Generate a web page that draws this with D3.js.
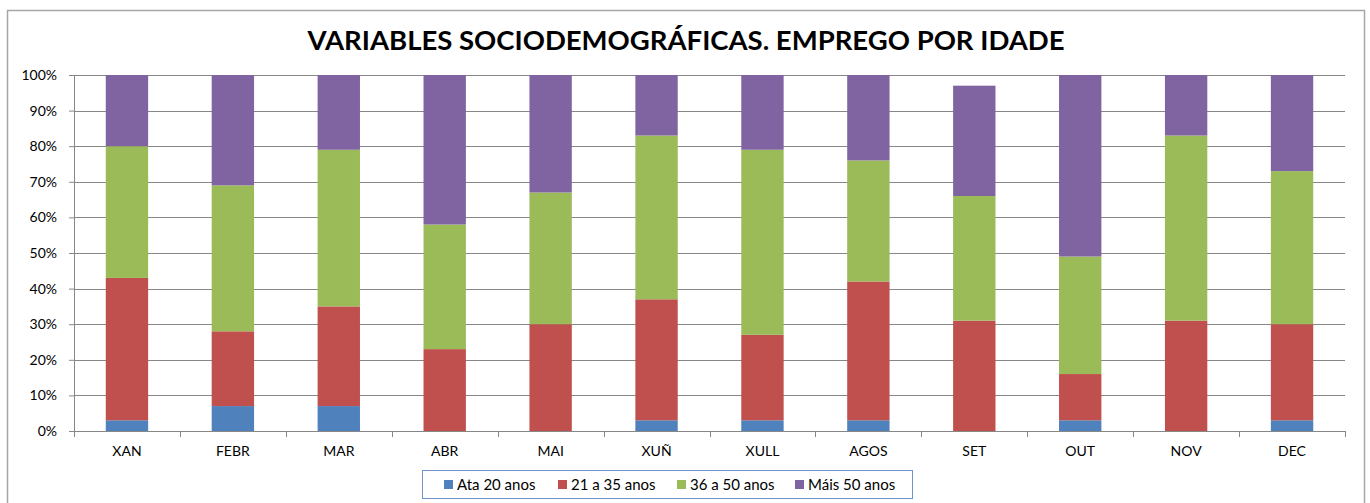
<!DOCTYPE html>
<html>
<head>
<meta charset="utf-8">
<script src="https://cdn.jsdelivr.net/npm/d3@7"></script>
<style>
  body { margin: 0; background: #fff; }
  svg text { font-family: Lato, "Liberation Sans", sans-serif; fill: #000; }
  .grid line { stroke: #878787; stroke-width: 1; }
  .axis path, .axis line { stroke: #878787; }
</style>
</head>
<body>
<div id="chart"></div>
<script>
// data
const months = ['XAN', 'FEBR', 'MAR', 'ABR', 'MAI', 'XUÑ', 'XULL', 'AGOS', 'SET', 'OUT', 'NOV', 'DEC'];
const seriesNames = ['Ata 20 anos', '21 a 35 anos', '36 a 50 anos', 'Máis 50 anos'];
const ata20 = [3, 7, 7, 0, 0, 3, 3, 3, 0, 3, 0, 3];
const de21a35 = [40, 21, 28, 23, 30, 34, 24, 39, 31, 13, 31, 27];
const de36a50 = [37, 41, 44, 35, 37, 46, 52, 34, 35, 33, 52, 43];
const mais50 = [20, 31, 21, 42, 33, 17, 21, 24, 31, 51, 17, 27];
const yTicks = [0, 10, 20, 30, 40, 50, 60, 70, 80, 90, 100];
const colors = ['#4F81BD', '#C0504D', '#9BBB59', '#8064A2'];

const W = 1370, H = 503;
const margins = { top: 75, right: 25, bottom: 72, left: 74 };
const width = W - margins.left - margins.right;
const height = H - margins.top - margins.bottom;

const rows = months.map((m, i) => ({
  month: m,
  s0: ata20[i], s1: de21a35[i], s2: de36a50[i], s3: mais50[i]
}));
const keys = ['s0', 's1', 's2', 's3'];
const stacked = d3.stack().keys(keys)(rows);

const xScale = d3.scaleBand().domain(months).range([0, width]).paddingInner(0.6).paddingOuter(0.3);
const xTickScale = d3.scaleBand().domain(months).range([0, width]);
const yScale = d3.scaleLinear().domain([0, 100]).range([height, 0]);

const $svg = d3.select('#chart').append('svg')
  .attr('width', W).attr('height', H);

// outer frame
$svg.append('rect')
  .attr('x', 7.5).attr('y', 10.5)
  .attr('width', 1357).attr('height', 510)
  .attr('fill', 'none').attr('stroke', '#A6A6A6').attr('stroke-width', 1.5);

$svg.append('text')
  .attr('x', 686).attr('y', 50)
  .attr('text-anchor', 'middle')
  .style('font-size', '27.5px').style('font-weight', 'bold')
  .text('VARIABLES SOCIODEMOGRÁFICAS. EMPREGO POR IDADE');

const $g = $svg.append('g')
  .attr('transform', `translate(${margins.left}, ${margins.top})`);

// gridlines
$g.append('g').classed('grid', true)
  .selectAll('line').data(yTicks.slice(1)).enter().append('line')
  .attr('x1', 0).attr('x2', width)
  .attr('y1', d => Math.round(yScale(d)) + 0.5)
  .attr('y2', d => Math.round(yScale(d)) + 0.5);

// y axis
const yAxis = d3.axisLeft(yScale).tickValues(yTicks).tickSize(5).tickPadding(12)
  .tickFormat(d => d + '%');
const $yAxis = $g.append('g').classed('y axis', true).call(yAxis);
$yAxis.selectAll('text').style('font-size', '14px');

// bars
$g.selectAll('.series')
  .data(stacked).enter().append('g')
  .classed('series', true)
  .attr('fill', (d, i) => colors[i])
  .selectAll('rect')
  .data(d => d).enter().append('rect')
  .attr('x', d => xScale(d.data.month))
  .attr('width', xScale.bandwidth())
  .attr('y', d => yScale(d[1]))
  .attr('height', d => yScale(d[0]) - yScale(d[1]));

// x axis
const $xAxis = $g.append('g').classed('x axis', true)
  .attr('transform', `translate(0, ${height})`);
$xAxis.append('line')
  .attr('x1', 0).attr('x2', width).attr('y1', 0.5).attr('y2', 0.5);
$xAxis.selectAll('.tick-mark')
  .data(months.concat(['end'])).enter().append('line')
  .attr('x1', (d, i) => Math.round(i * xTickScale.step()) + 0.5)
  .attr('x2', (d, i) => Math.round(i * xTickScale.step()) + 0.5)
  .attr('y1', 0).attr('y2', 6);
$xAxis.selectAll('.lbl')
  .data(months).enter().append('text')
  .attr('x', d => xTickScale(d) + xTickScale.bandwidth() / 2)
  .attr('y', 25)
  .attr('text-anchor', 'middle')
  .style('font-size', '14px')
  .text(d => d);

// legend
const $legend = $svg.append('g').attr('transform', 'translate(422, 470)');
$legend.append('rect')
  .attr('x', 0.5).attr('y', 0.5).attr('width', 490).attr('height', 28)
  .attr('fill', '#fff').attr('stroke', '#6F95C9').attr('stroke-width', 1);
const legendX = [22, 136, 255, 373];
const $items = $legend.selectAll('.item')
  .data(seriesNames).enter().append('g')
  .attr('transform', (d, i) => `translate(${legendX[i]}, 0)`);
$items.append('rect')
  .attr('x', 0).attr('y', 10).attr('width', 9).attr('height', 9)
  .attr('fill', (d, i) => colors[i]);
$items.append('text')
  .attr('x', 13).attr('y', 19.5)
  .style('font-size', '15px')
  .text(d => d);
</script>
</body>
</html>
